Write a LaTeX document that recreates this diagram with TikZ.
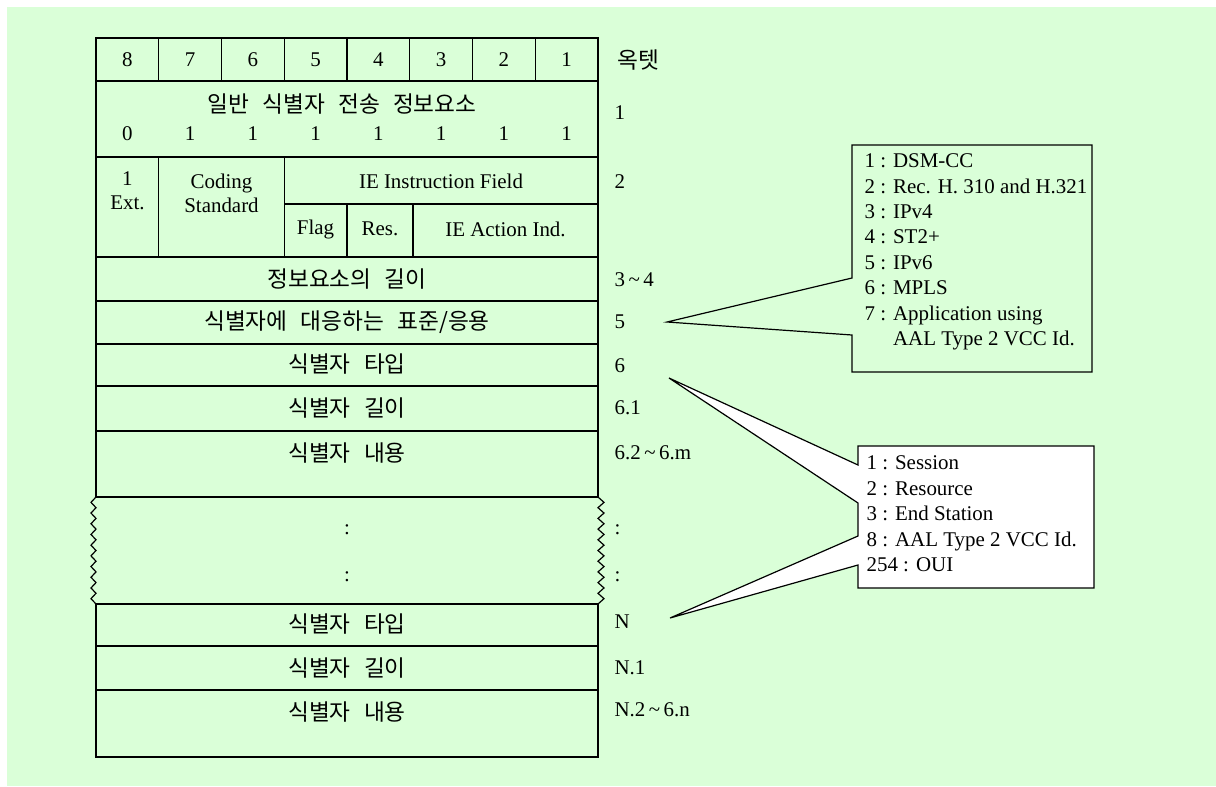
\documentclass[tikz,border=0pt]{standalone}
\usepackage{fontspec}
\setmainfont{Liberation Serif}
\newfontfamily\kr[WordSpace=2.6]{Noto Sans CJK KR}
\definecolor{bg}{RGB}{218,255,216}
\begin{document}
\begin{tikzpicture}[x=0.75pt,y=-0.75pt,line width=0.9pt,
  txt/.style={inner sep=0pt,font=\fontsize{15.7}{18}\selectfont},
  ko/.style={inner sep=0pt,font=\fontsize{17}{19}\selectfont\kr},
  rl/.style={inner sep=0pt,anchor=west,font=\fontsize{15.7}{19.1}\selectfont},
  callout/.style={line width=0.9pt,line join=miter}]
\useasboundingbox (0,0) rectangle (1216,786);
\fill[bg] (7,7) rectangle (1216,786);
% table outline upper part
\draw (96,497) -- (96,38) -- (598,38) -- (598,497);
\foreach \y in {81,157,257,301,344,386,431,497}{\draw (96,\y) -- (598,\y);}
\foreach \k in {1,...,7}{\draw ({96+62.75*\k},38) -- ({96+62.75*\k},81);}
\draw (158.75,157) -- (158.75,257);
\draw (284.25,157) -- (284.25,257);
\draw (284.25,204) -- (598,204);
\draw (347,204) -- (347,257);
\draw (413,204) -- (413,257);
% zigzag sides
\draw (96,497) \foreach \i in {1,...,10}{ -- ++(-5,5.35) -- ++(5,5.35)};
\draw (598,497) \foreach \i in {1,...,10}{ -- ++(6,5.35) -- ++(-6,5.35)};
% lower part
\draw (96,604) rectangle (598,757);
\foreach \y in {646,690}{\draw (96,\y) -- (598,\y);}
% header digits
\foreach \d [count=\k from 0] in {8,7,6,5,4,3,2,1}{
  \node[txt] (h\d) at ({127.4+62.75*\k},60) {\d};
  }
\node[ko] (gid) at (342,104) {일반 식별자 전송 정보요소};
\foreach \d [count=\k from 0] in {0,1,1,1,1,1,1,1}{
  \node[txt] (b\k) at ({127.4+62.75*\k},134) {\d};
  }
\node[txt,align=center] (ext) at (127.4,191) {1\\Ext.};
\node[txt,align=center] (cod) at (221.5,193) {Coding\\Standard};
\node[txt] (ief) at (441,181) {IE Instruction Field};
\node[txt] (flag) at (315.6,229) {Flag};
\node[txt] (res) at (380,229) {Res.};
\node[txt] (act) at (505.5,229) {IE Action Ind.};
\node[ko] (r3) at (347,279) {정보요소의 길이};
\node[ko] (r5) at (347,322) {식별자에 대응하는 표준/응용};
\node[ko] (r6) at (347,364) {식별자 타입};
\node[ko] (r61) at (347,408) {식별자 길이};
\node[ko] (r62) at (347,453) {식별자 내용};
\node[txt] (d1) at (347,530) {:};
\node[txt] (d2) at (347,577) {:};
\node[ko] (rN) at (347,624) {식별자 타입};
\node[ko] (rN1) at (347,668) {식별자 길이};
\node[ko] (rN2) at (347,712) {식별자 내용};
% right labels
\node[ko,anchor=west] (oct) at (617,60) {옥텟};
\node[rl] (l1) at (614,113) {1};
\node[rl] (l2) at (614,182) {2};
\node[rl] (l34) at (614,280) {3\,\textasciitilde\,4};
\node[rl] (l5) at (614,322) {5};
\node[rl] (l6) at (614,366) {6};
\node[rl] (l61) at (614,408) {6.1};
\node[rl] (l62) at (614,453) {6.2\,\textasciitilde\,6.m};
\node[rl] (lc1) at (614,530) {:};
\node[rl] (lc2) at (614,577) {:};
\node[rl] (lN) at (614,622) {N};
\node[rl] (lN1) at (614,668) {N.1};
\node[rl] (lN2) at (614,710) {N.2\,\textasciitilde\,6.n};
% callout 1
\coordinate (t1) at (667,322);
\draw[callout,fill=bg] (852,145) -- (1092,145) -- (1092,372) -- (852,372) -- (852,335) -- (t1) -- (852,278) -- cycle;
\node[rl,align=left] (c1) at (864,252) {1 : DSM-CC\\2 : Rec. H. 310 and H.321\\3 : IPv4\\4 : ST2+\\5 : IPv6\\6 : MPLS\\7 : Application using\\\phantom{7 : }AAL Type 2 VCC Id.};
% callout 2
\coordinate (t2) at (669,378);
\coordinate (t3) at (670,618);
\draw[callout,fill=white] (858,446) -- (1094,446) -- (1094,588) -- (858,588) -- (858,565) -- (t3) -- (858,536) -- (858,503) -- (t2) -- (858,465) -- cycle;
\node[rl,align=left] (c2) at (866,514) {1 : Session\\2 : Resource\\3 : End Station\\8 : AAL Type 2 VCC Id.\\254 : OUI};
\end{tikzpicture}
\end{document}
